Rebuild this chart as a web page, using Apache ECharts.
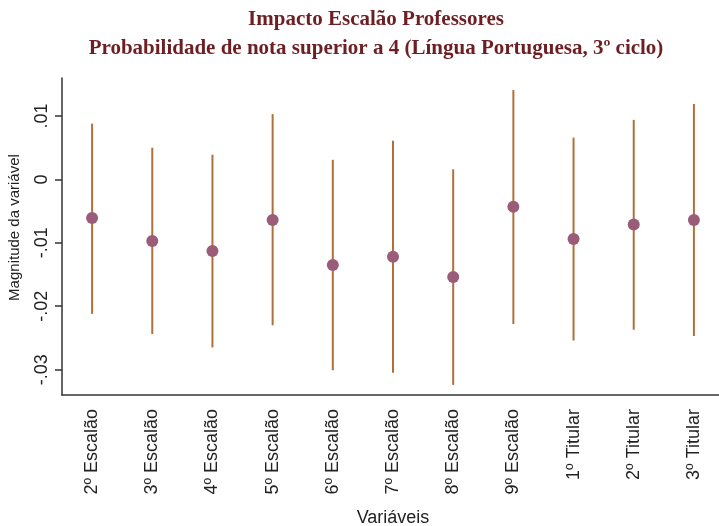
<!DOCTYPE html>
<html>
<head>
<meta charset="utf-8">
<script src="https://cdn.jsdelivr.net/npm/echarts@6/dist/echarts.min.js"></script>
<style>html,body{margin:0;padding:0;background:#fff;}#c{width:719px;height:526px;}</style>
</head>
<body>
<div id="c"></div>
<script>
const categories = ['2º Escalão','3º Escalão','4º Escalão','5º Escalão','6º Escalão','7º Escalão','8º Escalão','9º Escalão','1º Titular','2º Titular','3º Titular'];
const estimates = [-0.0061, -0.0097, -0.0113, -0.0064, -0.0135, -0.0122, -0.0154, -0.0043, -0.0094, -0.0071, -0.0064];
const upper = [0.0088, 0.0050, 0.0039, 0.0103, 0.0031, 0.0061, 0.0016, 0.0141, 0.0066, 0.0094, 0.0119];
const lower = [-0.0212, -0.0244, -0.0265, -0.0230, -0.0301, -0.0305, -0.0324, -0.0228, -0.0254, -0.0237, -0.0247];
const yTicks = [-0.03, -0.02, -0.01, 0, 0.01];

const chart = echarts.init(document.getElementById('c'), null, {renderer: 'canvas'});
const fmt = v => {
  if (Math.abs(v) < 1e-12) return '0';
  let s = (Math.round(v * 100) / 100).toString();
  return s.replace('0.', '.');
};
chart.setOption({
  animation: false,
  backgroundColor: '#fff',
  title: {
    text: 'Impacto Escalão Professores\nProbabilidade de nota superior a 4 (Língua Portuguesa, 3º ciclo)',
    left: 371, top: 0, textAlign: 'center',
    textStyle: {fontFamily: 'Liberation Serif', fontWeight: 'bold', fontSize: 21, color: '#6e1f24', lineHeight: 29}
  },
  grid: {left: 62, top: 78, width: 662, height: 317, outerBoundsMode: 'none', containLabel: false},
  xAxis: {
    type: 'category', data: categories, boundaryGap: true,
    name: 'Variáveis', nameLocation: 'middle', nameGap: 114,
    nameTextStyle: {fontFamily: 'Liberation Sans', fontSize: 18, color: '#222'},
    axisLine: {onZero: false, lineStyle: {color: '#333', width: 1.5}},
    axisTick: {alignWithLabel: true, length: 7, lineStyle: {color: '#333', width: 1.5}},
    axisLabel: {rotate: 90, margin: 14, fontFamily: 'Liberation Sans', fontSize: 18, color: '#222'}
  },
  yAxis: {
    type: 'value', min: -0.034, max: 0.016,
    name: 'Magnitude da variável', nameLocation: 'middle', nameGap: 40,
    nameTextStyle: {fontFamily: 'Liberation Sans', fontSize: 15, color: '#222', padding: [0, 0, 0, 18]},
    splitLine: {show: false},
    axisLine: {show: true, onZero: false, lineStyle: {color: '#333', width: 1.5}},
    axisTick: {show: true, length: 7, customValues: yTicks, lineStyle: {color: '#333', width: 1.5}},
    axisLabel: {rotate: 90, margin: 11, customValues: yTicks, formatter: fmt, fontFamily: 'Liberation Sans', fontSize: 18, color: '#222'}
  },
  series: [
    {
      type: 'custom',
      data: categories.map((c, i) => [i, lower[i], upper[i]]),
      renderItem: function (params, api) {
        const i = api.value(0);
        const p1 = api.coord([i, api.value(1)]);
        const p2 = api.coord([i, api.value(2)]);
        return {type: 'line', shape: {x1: p1[0], y1: p1[1], x2: p2[0], y2: p2[1]},
          style: {stroke: '#b0703a', lineWidth: 2}};
      },
      z: 2
    },
    {
      type: 'scatter',
      data: estimates.map((v, i) => [i, v]),
      symbol: 'circle', symbolSize: 12,
      itemStyle: {color: '#9a5c78', opacity: 1},
      z: 3
    }
  ]
});
</script>
</body>
</html>
